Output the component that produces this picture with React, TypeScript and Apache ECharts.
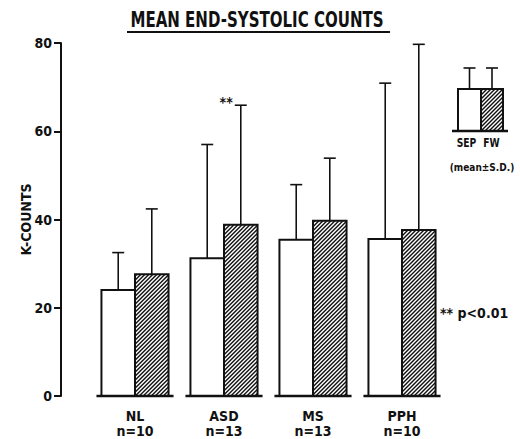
import React, { useEffect, useRef } from "react";
import * as echarts from "echarts";

// Group labels and sample sizes
const categories = ["NL", "ASD", "MS", "PPH"];
const groupSizes = ["n=10", "n=13", "n=13", "n=10"];

// Septal (SEP) and free wall (FW) end-systolic counts, mean and S.D. (K-counts)
const sepMean = [24.0, 31.2, 35.4, 35.6];
const sepSD = [8.5, 25.8, 12.5, 35.3];
const fwMean = [27.6, 38.8, 39.7, 37.6];
const fwSD = [14.8, 27.1, 14.2, 42.1];
const significance = ["", "**", "", ""];

// Value axis
const yMin = 0;
const yMax = 80;
const yStep = 20;

const FONT =
  "'Liberation Sans Narrow', 'DejaVu Sans Condensed', 'Roboto Condensed', 'Arial Narrow', 'DejaVu Sans', sans-serif";
const INK = "#111";

// Diagonal (bottom-left to top-right) hatch lines clipped to a rectangle
function hatchLines(x0: number, y0: number, x1: number, y1: number, step: number, lw = 1.4) {
  const out: any[] = [];
  for (let c = x0 + y0 + step / 2; c < x1 + y1; c += step) {
    const xa = Math.max(x0, c - y1);
    const xb = Math.min(x1, c - y0);
    if (xb - xa > 0.3) {
      out.push({
        type: "line",
        shape: { x1: xa, y1: c - xa, x2: xb, y2: c - xb },
        style: { stroke: INK, lineWidth: lw },
        silent: true,
      });
    }
  }
  return out;
}

function errorBar(x: number, yFrom: number, yTo: number, cap: number) {
  return [
    {
      type: "line",
      shape: { x1: x, y1: yFrom, x2: x, y2: yTo },
      style: { stroke: INK, lineWidth: 1.6 },
    },
    {
      type: "line",
      shape: { x1: x - cap, y1: yTo, x2: x + cap, y2: yTo },
      style: { stroke: INK, lineWidth: 1.6 },
    },
  ];
}

// Bold text squeezed horizontally to a condensed look
function condensedText(text: string, x: number, y: number, size: number, squeeze: number, align = "center") {
  return {
    type: "text",
    x,
    y,
    scaleX: squeeze,
    style: {
      text,
      fill: INK,
      font: `bold ${size}px ${FONT}`,
      textAlign: align,
      textVerticalAlign: "middle",
    },
  };
}

export default function App() {
  const ref = useRef<HTMLDivElement>(null);

  useEffect(() => {
    if (!ref.current) return;
    const chart = echarts.init(ref.current, null, { renderer: "svg" });

    const data = categories.map((_, i) => [i, sepMean[i], sepSD[i], fwMean[i], fwSD[i]]);

    const renderItem = (params: any, api: any) => {
      const i = api.value(0);
      const [cx, by] = api.coord([i, 0]);
      const band = api.size([1, 0])[0];
      const w = band * 0.377;
      const sepTop = api.coord([i, api.value(1)])[1];
      const sepErr = api.coord([i, api.value(1) + api.value(2)])[1];
      const fwTop = api.coord([i, api.value(3)])[1];
      const fwErr = api.coord([i, api.value(3) + api.value(4)])[1];

      const children: any[] = [];
      // error bars drawn first so bar outlines sit on top
      children.push(...errorBar(cx - w / 2, sepTop, sepErr, 6));
      children.push(...errorBar(cx + w / 2, fwTop, fwErr, 6));
      // SEP: open bar
      children.push({
        type: "rect",
        shape: { x: cx - w, y: sepTop, width: w, height: by - sepTop },
        style: { fill: "#fff", stroke: INK, lineWidth: 2 },
      });
      // FW: hatched bar
      children.push({
        type: "rect",
        shape: { x: cx, y: fwTop, width: w, height: by - fwTop },
        style: { fill: "#fff" },
      });
      children.push(...hatchLines(cx, fwTop, cx + w, by, 4));
      children.push({
        type: "rect",
        shape: { x: cx, y: fwTop, width: w, height: by - fwTop },
        style: { fill: "none", stroke: INK, lineWidth: 2 },
      });
      // baseline under the pair
      children.push({
        type: "line",
        shape: { x1: cx - w - 5, y1: by, x2: cx + w + 5, y2: by },
        style: { stroke: INK, lineWidth: 2.6 },
      });
      const mark = significance[params.dataIndex];
      if (mark) {
        children.push({
          type: "text",
          x: cx + w / 2 - 8,
          y: fwErr - 3,
          style: {
            text: mark,
            fill: INK,
            font: `bold 14px ${FONT}`,
            textAlign: "right",
            textVerticalAlign: "middle",
          },
        });
      }
      return { type: "group", children };
    };

    // Key in the upper right
    const key: any[] = [];
    const kx0 = 458, kx1 = 481, kx2 = 503, kTop = 89, kBase = 131, kErr = 68;
    key.push(...errorBar((kx0 + kx1) / 2, kTop, kErr, 6));
    key.push(...errorBar((kx1 + kx2) / 2, kTop, kErr, 6));
    key.push({
      type: "rect",
      shape: { x: kx0, y: kTop, width: kx1 - kx0, height: kBase - kTop },
      style: { fill: "#fff", stroke: INK, lineWidth: 2 },
    });
    key.push({
      type: "rect",
      shape: { x: kx1, y: kTop, width: kx2 - kx1, height: kBase - kTop },
      style: { fill: "#fff" },
    });
    key.push(...hatchLines(kx1, kTop, kx2, kBase, 4));
    key.push({
      type: "rect",
      shape: { x: kx1, y: kTop, width: kx2 - kx1, height: kBase - kTop },
      style: { fill: "none", stroke: INK, lineWidth: 2 },
    });
    key.push({
      type: "line",
      shape: { x1: 452, y1: kBase, x2: 508, y2: kBase },
      style: { stroke: INK, lineWidth: 2.6 },
    });
    key.push(condensedText("SEP", 466.5, 143, 12, 0.85));
    key.push(condensedText("FW", 491.5, 143, 12, 0.85));
    key.push(condensedText("(mean±S.D.)", 482, 167, 10, 1));

    chart.setOption({
      animation: false,
      backgroundColor: "#fff",
      grid: { left: 90.5, right: 73.5, top: 43, bottom: 43 },
      xAxis: {
        type: "category",
        data: categories,
        axisLine: { show: false },
        axisTick: { show: false },
        splitLine: { show: false },
        axisLabel: {
          margin: 12,
          interval: 0,
          formatter: (v: string, idx: number) => `{a|${v}}\n{b|${groupSizes[idx]}}`,
          rich: {
            a: { fontFamily: FONT, fontWeight: "bold", fontSize: 14, color: INK, lineHeight: 15 },
            b: { fontFamily: FONT, fontWeight: "bold", fontSize: 14, color: INK, lineHeight: 15 },
          },
        },
      },
      yAxis: {
        type: "value",
        min: yMin,
        max: yMax,
        interval: yStep,
        offset: 29.5,
        name: "K-COUNTS",
        nameLocation: "middle",
        nameRotate: 90,
        nameGap: 28,
        nameMoveOverlap: false,
        nameTextStyle: { fontFamily: FONT, fontWeight: "bold", fontSize: 14, color: INK },
        axisLine: { show: true, lineStyle: { color: INK, width: 2 } },
        axisTick: { show: true, length: 7, lineStyle: { color: INK, width: 2 } },
        axisLabel: { margin: 9, fontFamily: FONT, fontWeight: "bold", fontSize: 14, color: INK },
        splitLine: { show: false },
      },
      series: [
        {
          type: "custom",
          renderItem,
          data,
          clip: false,
        },
      ],
      graphic: [
        condensedText("MEAN END-SYSTOLIC COUNTS", 257, 20, 22, 0.76),
        {
          type: "line",
          shape: { x1: 127, y1: 32, x2: 390, y2: 32 },
          style: { stroke: INK, lineWidth: 2 },
        },
        condensedText("** p<0.01", 440, 313, 14, 1, "left"),
        { type: "group", children: key },
      ],
    });

    return () => chart.dispose();
  }, []);

  return (
    <div
      ref={ref}
      style={{ position: "fixed", left: 0, top: 0, width: 520, height: 439, background: "#fff" }}
    />
  );
}
